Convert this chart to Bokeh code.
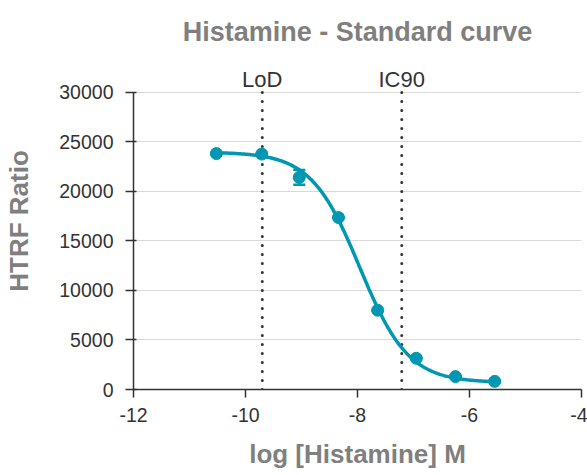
import numpy as np
from bokeh.plotting import figure
from bokeh.models import (ColumnDataSource, Whisker, TeeHead, Label, FixedTicker)
from bokeh.embed import file_html
from bokeh.resources import INLINE

# ---- data ----
log_conc = [-10.52, -9.71, -9.04, -8.34, -7.64, -6.95, -6.25, -5.55]
htrf_ratio = [23800, 23750, 21400, 17350, 8000, 3150, 1300, 820]
err_lower = [23800, 23750, 20650, 17350, 8000, 3150, 1300, 820]
err_upper = [23800, 23750, 22150, 17350, 8000, 3150, 1300, 820]

# 4-parameter logistic fit
fit_top = 23950
fit_bottom = 700
fit_log_ic50 = -7.96
fit_hill = 1.0

lod_x = -9.70
ic90_x = -7.21

x_ticks = [-12, -10, -8, -6, -4]
y_ticks = [0, 5000, 10000, 15000, 20000, 25000, 30000]
x_tick_labels = {t: str(t) for t in x_ticks}
y_tick_labels = {t: str(t) for t in y_ticks}

TEAL = "#0097B2"
GREY = "#7f7f7f"
DARK = "#333333"
FONT = "Liberation Sans"

# y range extends above 30000 so the LoD / IC90 labels sit inside the frame
p = figure(width=587, height=475, x_range=(-12, -4), y_range=(0, 34000),
           output_backend="svg", toolbar_location=None,
           min_border_left=133, min_border_right=6,
           min_border_top=52, min_border_bottom=86)
p.outline_line_color = None
p.background_fill_color = "white"

# title
p.title.text = "Histamine - Standard curve"
p.title.align = "center"
p.title.text_font = FONT
p.title.text_font_size = "27px"
p.title.text_font_style = "bold"
p.title.text_color = GREY
p.title.standoff = 12

# axes
p.xaxis.ticker = FixedTicker(ticks=x_ticks)
p.yaxis.ticker = FixedTicker(ticks=y_ticks)
p.xaxis.major_label_overrides = x_tick_labels
p.yaxis.major_label_overrides = y_tick_labels
p.yaxis.bounds = (0, 30000)
for ax in (p.xaxis[0], p.yaxis[0]):
    ax.axis_line_color = DARK
    ax.axis_line_width = 1.5
    ax.major_tick_line_color = DARK
    ax.major_tick_line_width = 1.5
    ax.minor_tick_line_color = None
    ax.major_label_text_font = FONT
    ax.major_label_text_font_size = "19.5px"
    ax.major_label_text_color = DARK
    ax.axis_label_text_font = FONT
    ax.axis_label_text_font_size = "26px"
    ax.axis_label_text_font_style = "bold"
    ax.axis_label_text_color = GREY
p.xaxis.major_tick_out = 8
p.xaxis.major_tick_in = 0
p.yaxis.major_tick_out = 8
p.yaxis.major_tick_in = 3
p.xaxis.major_label_standoff = 10
p.yaxis.major_label_standoff = 12
p.xaxis.axis_label = "log [Histamine] M"
p.yaxis.axis_label = "HTRF Ratio"
p.xaxis.axis_label_standoff = 14
p.yaxis.axis_label_standoff = 22
p.xaxis.axis_label_text_baseline = "middle"

p.xgrid.grid_line_color = None
p.ygrid.grid_line_color = "#d9d9d9"
p.ygrid.grid_line_width = 1.2

# LoD / IC90 lines
for xv, name in ((lod_x, "LoD"), (ic90_x, "IC90")):
    p.segment(x0=[xv], y0=[0], x1=[xv], y1=[30000], line_color=DARK,
              line_width=3, line_dash="0 9", line_cap="round")
    p.add_layout(Label(x=xv, y=30000, y_offset=13, text=name,
                       text_align="center", text_baseline="alphabetic",
                       text_font=FONT, text_font_size="22px",
                       text_color=DARK))

# fitted curve
xc = np.linspace(log_conc[0], log_conc[-1], 300)
yc = fit_bottom + (fit_top - fit_bottom) / (1 + 10 ** ((xc - fit_log_ic50) * fit_hill))
p.line(xc, yc, line_color=TEAL, line_width=3.5)

src = ColumnDataSource(dict(x=log_conc, y=htrf_ratio, lo=err_lower, hi=err_upper))
p.add_layout(Whisker(source=src, base="x", lower="lo", upper="hi",
                     line_color=TEAL, line_width=2.5,
                     upper_head=TeeHead(size=12, line_color=TEAL, line_width=2.5),
                     lower_head=TeeHead(size=12, line_color=TEAL, line_width=2.5)))
p.scatter("x", "y", source=src, size=12, fill_color=TEAL, line_color=TEAL)

open("out.html", "w").write(file_html(p, INLINE))
